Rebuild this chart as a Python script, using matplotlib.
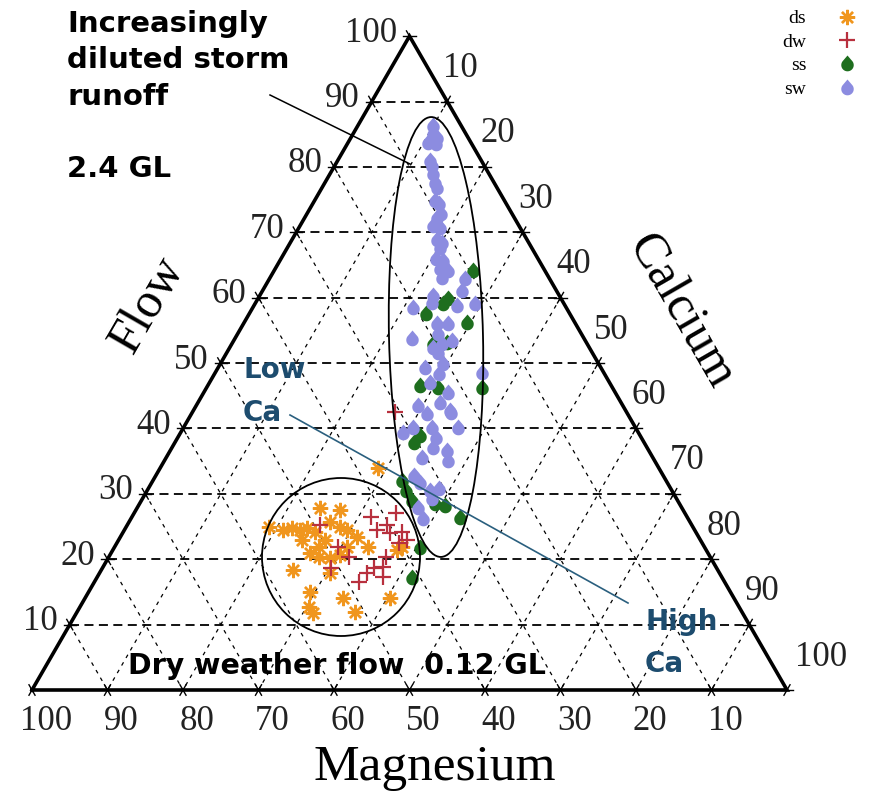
import numpy as np
import matplotlib
matplotlib.use("Agg")
import matplotlib.pyplot as plt
from matplotlib.path import Path
from matplotlib.patches import Ellipse, Circle

# --- samples: (flow %, calcium %), magnesium is the remainder ---
ds_flow = [34.0, 27.8, 27.5, 24.5, 24.8, 24.5, 24.8, 25.7, 24.9, 24.5, 23.0, 21.9, 21.0, 20.3, 20.2, 20.7,
           21.9, 21.9, 23.4, 18.4, 17.9, 15.0, 14.1, 14.1, 12.7, 11.8, 11.9, 21.9, 21.4, 24.9, 24.2, 23.0]
ds_ca = [28.8, 24.2, 27.0, 21.0, 22.0, 23.3, 24.0, 26.6, 28.3, 29.5, 24.3, 27.0, 26.3, 27.9, 29.4, 30.5,
         30.8, 33.5, 31.3, 25.4, 30.5, 29.3, 34.2, 40.4, 30.3, 31.3, 36.8, 38.1, 37.6, 19.0, 25.4, 27.3]

dw_flow = [25.2, 26.5, 27.1, 21.9, 20.3, 24.5, 25.2, 24.0, 24.2, 23.0, 20.3, 18.8, 18.7, 17.9, 16.5,
           17.3, 18.7, 22.5, 42.5]
dw_ca = [25.5, 31.6, 34.6, 29.6, 31.9, 33.5, 34.4, 35.4, 36.9, 38.2, 36.8, 37.1, 35.9, 35.4, 35.1,
         37.9, 30.2, 37.3, 26.8]

ss_flow = [64.3, 60.0, 59.2, 57.7, 56.3, 53.2, 53.1, 46.7, 46.4, 46.4, 39.0, 37.9, 32.1, 30.6, 29.1,
           28.6, 28.3, 26.5, 21.9, 17.3]
ss_ca = [26.3, 25.1, 24.8, 23.3, 29.5, 28.4, 26.6, 28.1, 30.6, 36.4, 31.9, 31.6, 32.9, 34.2, 35.8,
         39.1, 40.5, 43.5, 40.5, 41.7]

sw_flow = [86.4, 85.2, 84.6, 83.8, 83.7, 81.1, 80.3, 79.1, 77.7, 77.0, 75.0, 74.5, 72.4, 73.0, 71.1,
           70.8, 68.9, 68.5, 67.8, 66.1, 65.8, 64.6, 64.3, 63.2, 63.0, 61.2, 60.4, 59.4, 58.6, 58.9,
           59.2, 56.2, 56.2, 53.9, 54.6, 53.1, 53.6, 52.5, 51.7, 49.4, 50.0, 48.5, 48.7, 47.1, 45.6,
           44.1, 43.6, 42.8, 42.4, 42.5, 40.2, 39.5, 40.2, 40.2, 38.7, 37.2, 36.7, 35.6, 35.2, 32.9,
           31.8, 30.6, 30.9, 29.4, 28.0, 26.3]
sw_ca = [9.9, 10.5, 11.3, 10.6, 11.6, 12.1, 12.8, 13.6, 14.5, 15.1, 15.9, 16.6, 17.4, 17.7, 17.5,
         18.6, 19.2, 20.1, 20.1, 20.4, 21.5, 21.7, 23.0, 22.7, 25.9, 26.4, 22.9, 23.3, 21.2, 26.8,
         29.1, 25.5, 27.0, 23.4, 26.5, 27.8, 28.8, 26.8, 27.9, 27.4, 29.4, 29.7, 35.3, 29.1, 32.3,
         32.0, 29.3, 34.0, 31.1, 34.3, 30.4, 29.4, 32.9, 36.3, 34.2, 34.5, 36.6, 33.9, 37.5, 34.1,
         35.5, 37.4, 38.5, 38.3, 37.1, 38.6]

ticks = [10, 20, 30, 40, 50, 60, 70, 80, 90, 100]

W, H = 871, 795
X0, Y0, S = 32.0, 690.0, 7.55   # left corner in pixels, pixels per percent
R3 = np.sqrt(3) / 2


def tern(flow, ca):
    flow = np.asarray(flow, float)
    ca = np.asarray(ca, float)
    return ca + flow / 2, flow * R3


def px(x, y):
    return (x - X0) / S, (Y0 - y) / S


def drop_marker():
    # teardrop: round bottom, short point on top
    c, r = -0.2, 0.78
    a0 = np.degrees(np.arccos(r / (1 - c)))
    ang = np.radians(np.linspace(90 - a0, -270 + a0, 48))
    verts = [(0, 1)] + [(r * np.cos(t), c + r * np.sin(t)) for t in ang] + [(0, 1)]
    codes = [Path.MOVETO] + [Path.LINETO] * (len(verts) - 2) + [Path.CLOSEPOLY]
    return Path(verts, codes)


fig = plt.figure(figsize=(W / 100, H / 100), dpi=100)
ax = fig.add_axes([0, 0, 1, 1])
ax.set_xlim(-X0 / S, (W - X0) / S)
ax.set_ylim((Y0 - H) / S, Y0 / S)
ax.axis("off")

serif = "Liberation Serif"
bold = dict(family="DejaVu Sans", weight="bold")

# grid
for v in ticks[:-1]:
    x, y = tern([v, v], [0, 100 - v])
    ax.plot(x, y, color="black", lw=1.3, ls=(0, (5, 3)), zorder=1)
    x, y = tern([100 - v, 0], [v, v])
    ax.plot(x, y, color="black", lw=0.9, ls=(0, (3, 4)), zorder=1)
    x, y = tern([100 - v, 0], [0, 100 - v])
    ax.plot(x, y, color="black", lw=0.9, ls=(0, (3, 4)), zorder=1)

# triangle
x, y = tern([0, 0, 100, 0], [0, 100, 0, 0])
ax.plot(x, y, color="black", lw=2.6, solid_joinstyle="miter", zorder=3)

# ticks and tick labels
d = 0.8
dirs = {"h": (1, 0), "l": (0.5, R3), "r": (-0.5, R3)}
lab = dict(family=serif, fontsize=25, color="#222222")
for v in ticks:
    # flow, left edge
    x, y = tern(v, 0)
    for k in ("h", "r"):
        ux, uy = dirs[k]
        ax.plot([x - d * ux, x + d * ux], [y - d * uy, y + d * uy], color="black", lw=1, zorder=3)
    ax.text(x - 12 / S, y + 3 / S, str(v), ha="right", va="center", **lab)
    # calcium, right edge
    x, y = tern(100 - v, v)
    for k in ("h", "l"):
        ux, uy = dirs[k]
        ax.plot([x - d * ux, x + d * ux], [y - d * uy, y + d * uy], color="black", lw=1, zorder=3)
    dx = 34 if v == 100 else 13
    ax.text(x + dx / S, y + 33 / S, str(v), ha="center", va="center", **lab)
    # magnesium, base
    x, y = tern(0, 100 - v)
    for k in ("l", "r"):
        ux, uy = dirs[k]
        ax.plot([x - d * ux, x + d * ux], [y - d * uy, y + d * uy], color="black", lw=1, zorder=3)
    ax.text(x + 14 / S, y - 32 / S, str(v), ha="center", va="center", **lab)

# axis titles
ax.text(*px(148, 305), "Flow", rotation=60, ha="center", va="center", family=serif, fontsize=36)
ax.text(*px(680, 312), "Calcium", rotation=-60, ha="center", va="center", family=serif, fontsize=36)
ax.text(*px(435, 768), "Magnesium", ha="center", va="center", family=serif, fontsize=37)

# samples
drop = drop_marker()
ax.plot(*tern(ds_flow, ds_ca), ls="none", marker=(8, 2, 0), ms=11, mew=1.7, color="#f0961e",
        label="ds", zorder=4)
ax.plot(*tern(dw_flow, dw_ca), ls="none", marker="+", ms=12, mew=1.6, color="#b8303e",
        label="dw", zorder=4)
ax.plot(*tern(ss_flow, ss_ca), ls="none", marker=drop, ms=11.5, mew=0, color="#1e6e1e",
        label="ss", zorder=4)
ax.plot(*tern(sw_flow, sw_ca), ls="none", marker=drop, ms=11.5, mew=0, color="#8c8ce0",
        label="sw", zorder=4)

# groupings
ax.add_patch(Ellipse(px(436, 337), 94 / S, 440 / S, angle=1.3, fill=False, lw=1.3,
                     color="black", zorder=5))
ax.add_patch(Circle(px(341, 557), 79 / S, fill=False, lw=1.3, color="black", zorder=5))

# annotations
ax.plot(*zip(px(270, 95), px(410, 164)), color="black", lw=1.1, zorder=5)
ax.plot(*zip(px(290, 415), px(628, 603)), color="#2a5f7e", lw=1.2, zorder=5)

ax.text(*px(67, 10), "Increasingly\ndiluted storm\nrunoff", ha="left", va="top",
        fontsize=21, linespacing=1.38, **bold)
ax.text(*px(67, 177), "2.4 GL", ha="left", va="baseline", fontsize=21, **bold)
ax.text(*px(128, 674), "Dry weather flow  0.12 GL", ha="left", va="baseline", fontsize=20.5, **bold)
blue = "#1d4c6e"
ax.text(*px(243, 378), "Low", ha="left", va="baseline", fontsize=20, color=blue, **bold)
ax.text(*px(243, 421), "Ca", ha="left", va="baseline", fontsize=20, color=blue, **bold)
ax.text(*px(645, 630), "High", ha="left", va="baseline", fontsize=20, color=blue, **bold)
ax.text(*px(645, 672), "Ca", ha="left", va="baseline", fontsize=20, color=blue, **bold)

ax.legend(loc="upper right", bbox_to_anchor=(0.995, 1.0), markerfirst=False, frameon=False,
          prop=dict(family=serif, size=14), handlelength=1.0, handletextpad=1.6,
          labelspacing=0.3, borderaxespad=0.1)

fig.savefig("out.png", dpi=100)
